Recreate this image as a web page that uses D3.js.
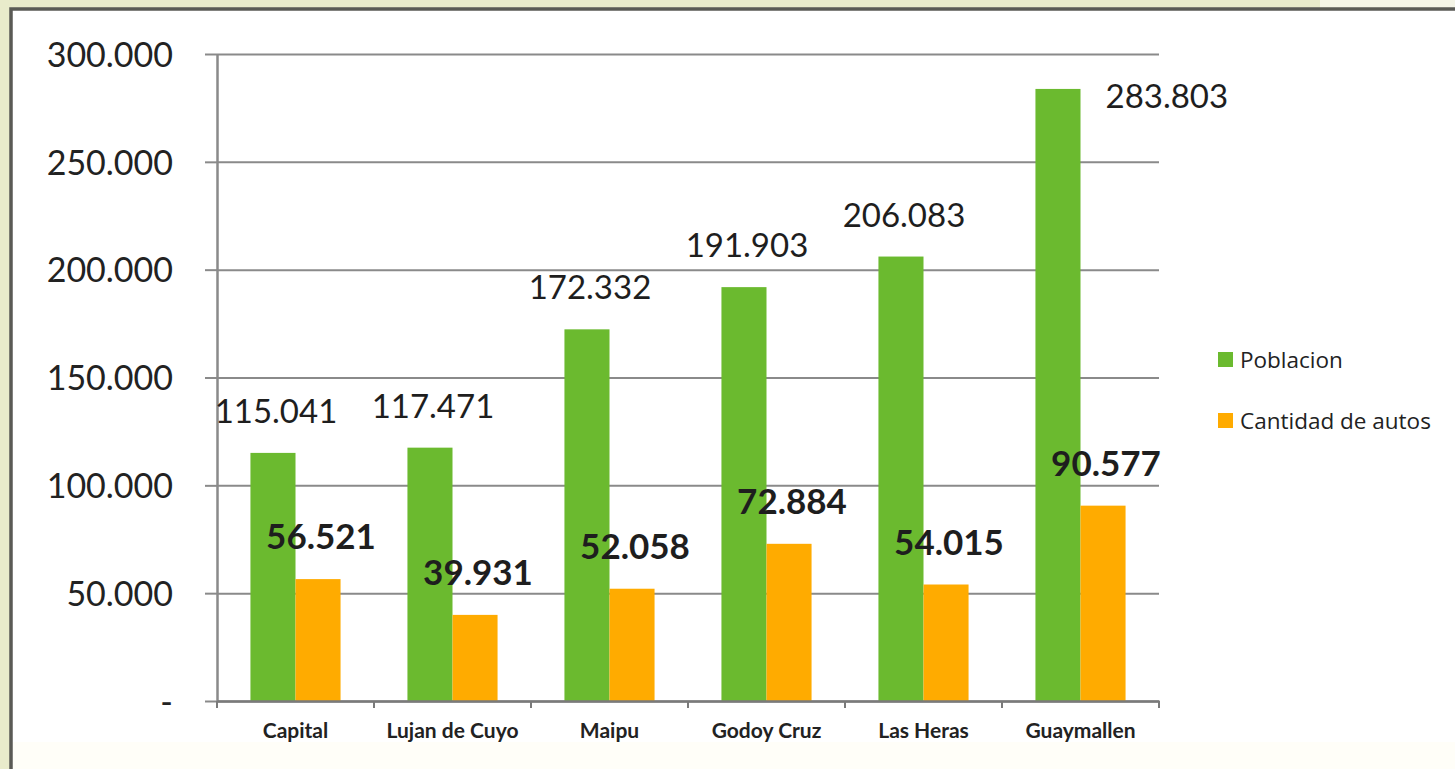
<!DOCTYPE html>
<html>
<head>
<meta charset="utf-8">
<script src="https://cdn.jsdelivr.net/npm/d3@7"></script>
<style>
  html, body { margin: 0; padding: 0; background: #e9ebcb; }
  svg { display: block; }
</style>
</head>
<body>
<svg id="chart" width="1455" height="769"></svg>
<script>
// Departamentos del Gran Mendoza
const categories = ["Capital", "Lujan de Cuyo", "Maipu", "Godoy Cruz", "Las Heras", "Guaymallen"];
const seriesNames = ["Poblacion", "Cantidad de autos"];
const poblacion = [115041, 117471, 172332, 191903, 206083, 283803];
const autos = [56521, 39931, 52058, 72884, 54015, 90577];
const yTicks = [0, 50000, 100000, 150000, 200000, 250000, 300000];
const colors = ["#6bba2f", "#ffab00"];

const svg = d3.select("#chart");
const W = 1455, H = 769;

// page background and chart frame (top and left edges visible)
svg.append("rect").attr("width", W).attr("height", H).attr("fill", "#e9ebcb");
svg.append("rect").attr("x", 1320).attr("y", 0).attr("width", 135).attr("height", 8).attr("fill", "#f4f4e6");
svg.append("rect")
  .attr("x", 11).attr("y", 9).attr("width", W).attr("height", H)
  .attr("fill", "#ffffff");
svg.append("rect")
  .attr("x", 12).attr("y", 742).attr("width", W).attr("height", 27)
  .attr("fill", "#fffef8");
svg.append("path")
  .attr("d", `M11,${H} V9 H${W}`)
  .attr("fill", "none").attr("stroke", "#5a5a55").attr("stroke-width", 3.5);

const plot = { left: 217, right: 1159, top: 54, bottom: 701 };

const x0 = d3.scaleBand().domain(categories).range([plot.left, plot.right]).paddingInner(0).paddingOuter(0);
const bw = x0.bandwidth();
const groupW = bw * 0.574;
const x1 = d3.scaleBand().domain(seriesNames).range([(bw - groupW) / 2, (bw + groupW) / 2]).padding(0);
const y = d3.scaleLinear().domain([0, 300000]).range([plot.bottom, plot.top]);

const fmt = v => v === 0 ? "-" : d3.format(",.0f")(v).replace(/,/g, ".");

// horizontal gridlines with left tick stubs
const grid = svg.append("g").attr("transform", `translate(${plot.left},0)`)
  .call(d3.axisLeft(y).tickValues(yTicks).tickSize(-(plot.right - plot.left)).tickFormat(""));
grid.select(".domain").remove();
grid.selectAll(".tick line").attr("stroke", "#8a8a8a").attr("stroke-width", 2);
grid.selectAll(".tick").append("line").attr("x1", -12).attr("x2", 0).attr("stroke", "#8a8a8a").attr("stroke-width", 2);

// y axis labels
const yAxis = svg.append("g").attr("transform", `translate(${plot.left},0)`)
  .call(d3.axisLeft(y).tickValues(yTicks).tickSize(0).tickPadding(44).tickFormat(fmt));
yAxis.select(".domain").attr("stroke", "#8a8a8a").attr("stroke-width", 2.5);
yAxis.selectAll(".tick text")
  .attr("font-family", "Lato, 'Open Sans', sans-serif").attr("font-size", 34)
  .attr("fill", "#222").attr("dy", "0.36em");

// bars
const rows = categories.map((c, i) => ({ cat: c, vals: [poblacion[i], autos[i]] }));
const groups = svg.append("g").selectAll("g").data(rows).join("g")
  .attr("transform", d => `translate(${x0(d.cat)},0)`);
groups.selectAll("rect").data(d => d.vals.map((v, k) => ({ v, k })))
  .join("rect")
  .attr("x", d => x1(seriesNames[d.k]))
  .attr("width", x1.bandwidth())
  .attr("y", d => y(d.v))
  .attr("height", d => y(0) - y(d.v))
  .attr("fill", d => colors[d.k]);

// x axis
const xAxis = svg.append("g").attr("transform", `translate(0,${plot.bottom})`)
  .call(d3.axisBottom(x0).tickSize(0).tickPadding(22));
xAxis.select(".domain").attr("stroke", "#7a7a7a").attr("stroke-width", 2.5);
xAxis.selectAll(".tick text")
  .attr("font-family", "Lato, 'Open Sans', sans-serif").attr("font-weight", 700)
  .attr("font-size", 21).attr("fill", "#222");
// category separator ticks
svg.append("g").selectAll("line").data(categories.concat(["_end"]))
  .join("line")
  .attr("x1", (d, i) => plot.left + i * bw).attr("x2", (d, i) => plot.left + i * bw)
  .attr("y1", plot.bottom).attr("y2", plot.bottom + 7)
  .attr("stroke", "#7a7a7a").attr("stroke-width", 2);

// value labels
const labels = svg.append("g").attr("font-family", "Lato, 'Open Sans', sans-serif").attr("fill", "#1e1e1e");
rows.forEach(r => {
  r.vals.forEach((v, k) => {
    const bx = x0(r.cat) + x1(seriesNames[k]);
    const cx = bx + x1.bandwidth() / 2;
    const top = y(v);
    const t = labels.append("text").text(fmt(v))
      .attr("font-size", k === 0 ? 33 : 35)
      .attr("font-weight", k === 0 ? 400 : 700);
    if (k === 0 && top - 30 < plot.top + 10) {
      // no room above the tallest bar: place label to its right
      t.attr("x", bx + x1.bandwidth() + 25).attr("y", top + 19).attr("text-anchor", "start");
    } else {
      t.attr("x", cx + 3).attr("y", top - 30).attr("text-anchor", "middle");
    }
  });
});

// legend
const legend = svg.append("g").attr("font-family", "'Open Sans', Lato, sans-serif");
seriesNames.forEach((s, i) => {
  const ly = 360 + i * 61;
  legend.append("rect").attr("x", 1218).attr("y", ly - 8).attr("width", 15).attr("height", 15).attr("fill", colors[i]);
  legend.append("text").attr("x", 1240).attr("y", ly).attr("dy", "0.36em")
    .attr("font-size", 22.5).attr("fill", "#222").text(s);
});
</script>
</body>
</html>
